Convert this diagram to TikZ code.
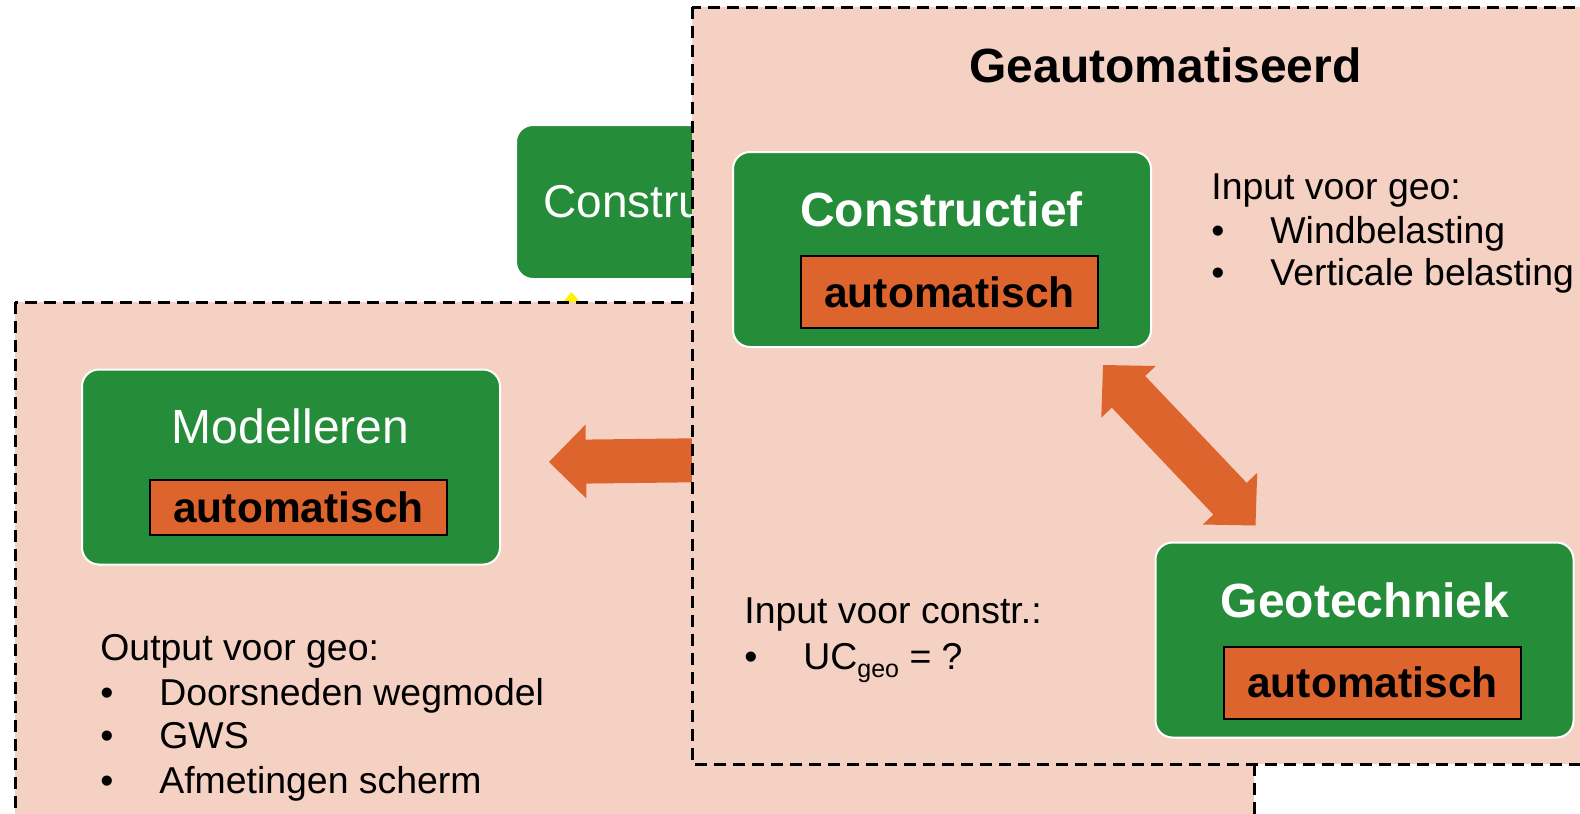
\documentclass[tikz,border=0pt]{standalone}
\usepackage{fontspec}
\setmainfont{Liberation Sans}
\usetikzlibrary{calc}
\definecolor{peach}{HTML}{F4D1C2}
\definecolor{boxgreen}{HTML}{258C3A}
\definecolor{autoorange}{HTML}{DD642D}
\newcommand\bul{\makebox[29.5pt][l]{•}}
\begin{document}
\begin{tikzpicture}[x=0.5pt,y=-0.5pt,
  panel/.style={fill=peach, draw=black, line width=1.5pt, dash pattern=on 6pt off 3.5pt},
  greenbox/.style={draw=white, line width=1pt, fill=boxgreen, rounded corners=8.5pt, minimum width=209pt, minimum height=97.5pt, inner sep=0pt},
  autobox/.style={draw=black, line width=1pt, fill=autoorange, minimum width=148.5pt, inner sep=0pt, font=\fontsize{21.25}{25}\selectfont\bfseries},
  boxtitle/.style={text=white, anchor=base, inner sep=0pt, font=\fontsize{24}{28}\selectfont\bfseries},
  body/.style={anchor=base west, inner sep=0pt, font=\fontsize{18.7}{22}\selectfont},
  blockarrow/.style={fill=autoorange}
]
\useasboundingbox (0,0) rectangle (1580,814);
\clip (0,0) rectangle (1580,814);

% background box, partly hidden
\node[greenbox, minimum height=77pt, anchor=north west] (backbox) at (515,124) {};
\node[text=white, anchor=base west, inner sep=0pt, font=\fontsize{23}{28}\selectfont] (backtitle) at (543,217) {Constructief};
\fill[yellow] (563,302) -- (571.5,292) -- (580,302) -- cycle;

% left panel
\path[panel] (15,302) rectangle (1254,860);
\node[greenbox] (model) at (291,467) {};
\node[boxtitle, font=\fontsize{24}{28}\selectfont] (modeltitle) at (290.5,443) {Modelleren};
\node[autobox, minimum height=27.5pt] (modelauto) at (298.5,507.5) {automatisch};

\node[body] (out0) at (100,660) {Output voor geo:};
\node[body] (out1) at (100,705) {\bul Doorsneden wegmodel};
\node[body] (out2) at (100,748) {\bul GWS};
\node[body] (out3) at (100,793) {\bul Afmetingen scherm};

% left block arrow
\coordinate (latip) at ($(model.east)+(48,-5)$);
\coordinate (laend) at (720,460);
\coordinate (lahb) at ($(latip)!18.5pt!(laend)$);
\fill[blockarrow] (latip) -- ($(lahb)!18.5pt!90:(laend)$) -- ($(lahb)!11pt!90:(laend)$)
  -- ($(laend)!11pt!-90:(lahb)$) -- ($(laend)!11pt!90:(lahb)$)
  -- ($(lahb)!11pt!-90:(laend)$) -- ($(lahb)!18.5pt!-90:(laend)$) -- cycle;

% right panel
\path[panel] (692,7) rectangle (1640,764);
\node[anchor=base, inner sep=0pt, font=\fontsize{24}{28}\selectfont\bfseries] (title) at (1165.5,82) {Geautomatiseerd};

\node[greenbox] (constr) at (942,249.5) {};
\node[boxtitle] (constrtitle) at (941.5,226) {Constructief};
\node[autobox, minimum height=36pt] (constrauto) at (949.5,292) {automatisch};

\node[greenbox] (geo) at (1364.5,640) {};
\node[boxtitle] (geotitle) at (1365,617) {Geotechniek};
\node[autobox, minimum height=36pt] (geoauto) at (1372.5,682.5) {automatisch};

\node[body] (in0) at (1211,199) {Input voor geo:};
\node[body] (in1) at (1211,243) {\bul Windbelasting};
\node[body] (in2) at (1211,285) {\bul Verticale belasting};

\node[body] (ic0) at (744,623) {Input voor constr.:};
\node[body] (ic1) at (744,669) {\bul UC\raisebox{-4pt}{\fontsize{12.5}{14}\selectfont geo} = ?};

% double block arrow
\coordinate (da) at ($(constr.south east)+(-49,17)$);
\coordinate (db) at ($(geo.north west)+(101,-16)$);
\coordinate (dha) at ($(da)!18.5pt!(db)$);
\coordinate (dhb) at ($(db)!18.5pt!(da)$);
\fill[blockarrow] (da) -- ($(dha)!18.75pt!90:(db)$) -- ($(dha)!11.5pt!90:(db)$)
  -- ($(dhb)!11.5pt!-90:(da)$) -- ($(dhb)!18.75pt!-90:(da)$) -- (db)
  -- ($(dhb)!18.75pt!90:(da)$) -- ($(dhb)!11.5pt!90:(da)$)
  -- ($(dha)!11.5pt!-90:(db)$) -- ($(dha)!18.75pt!-90:(db)$) -- cycle;
\end{tikzpicture}
\end{document}
